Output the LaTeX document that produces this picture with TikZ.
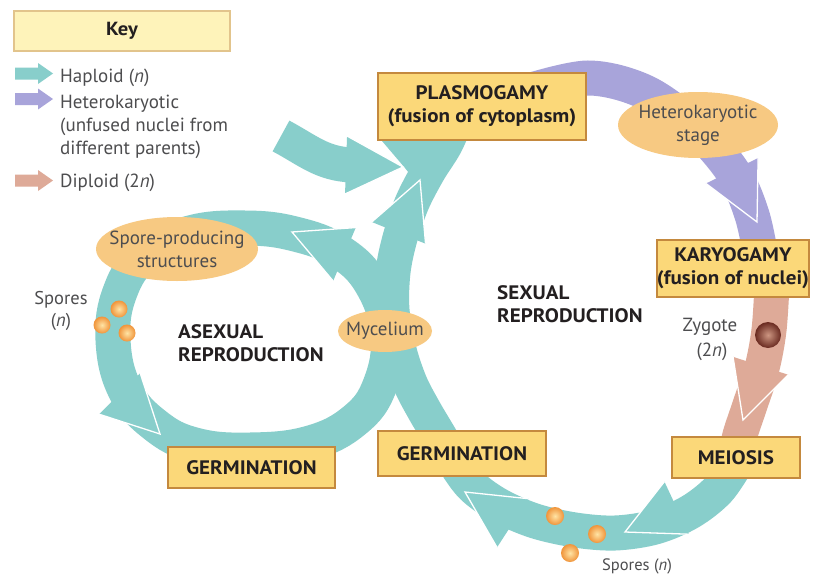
\documentclass[tikz,border=0pt]{standalone}
\usepackage{fontspec}
\setmainfont{PT Sans}[BoldFeatures={FakeStretch=1.08}]
\usetikzlibrary{shapes.geometric}
\definecolor{hapl}{RGB}{136,206,203}
\definecolor{hetk}{RGB}{168,164,218}
\definecolor{dipl}{RGB}{222,170,152}
\definecolor{boxfill}{RGB}{251,216,121}
\definecolor{boxline}{RGB}{196,137,62}
\definecolor{ellfill}{RGB}{247,201,130}
\definecolor{keyfill}{RGB}{254,243,186}
\definecolor{keyline}{RGB}{226,196,140}
\definecolor{txt}{RGB}{35,31,32}
\definecolor{txtg}{RGB}{77,77,79}
\definecolor{sporein}{RGB}{255,228,165}
\definecolor{sporeout}{RGB}{240,148,58}
\definecolor{zygin}{RGB}{205,150,130}
\definecolor{zygout}{RGB}{105,42,32}
\newcommand{\bandhead}[4]{%
  \fill[#4] (#1,-#2) -- +(#3+206.97:63.95) -- +(#3+153.03:63.95) -- cycle;
  \draw[white, line width=1.3pt, line join=miter] (#1,-#2) +(#3+206.97:63.95) -- (#1,-#2) -- +(#3+153.03:63.95);}
\newcommand{\keyarrow}[2]{%
  \fill[#2] (15,-#1) ++(0,6) -- ++(23,0) -- ++(0,4.5) -- ++(15,-10.5) -- ++(-15,-10.5) -- ++(0,4.5) -- ++(-23,0) -- cycle;}
\begin{document}
\begin{tikzpicture}[x=1pt,y=1pt,
  band/.style={line width=35pt, line cap=butt},
  stepbox/.style={draw=boxline, fill=boxfill, line width=1.6pt, inner sep=0pt, align=center, text=txt, font=\fontsize{19.5}{23}\selectfont\bfseries},
  oval/.style={ellipse, fill=ellfill, inner sep=0pt},
  lbl/.style={inner sep=0pt, text=txtg, font=\fontsize{19}{23}\selectfont},
  slbl/.style={inner sep=0pt, text=txtg, font=\fontsize{16.5}{21}\selectfont},
  blbl/.style={inner sep=0pt, text=txt, font=\fontsize{19.5}{23}\selectfont\bfseries},
  spore/.style={inner color=sporein, outer color=sporeout}]
\fill[white] (0,0) rectangle (818,-578);
\useasboundingbox (0,0) rectangle (818,-578);

% ---- key
\node[draw=keyline, fill=keyfill, line width=1.2pt, minimum width=216pt, minimum height=40pt, inner sep=0pt, text=txt, font=\fontsize{19}{23}\selectfont\bfseries] (key) at (122,-31) {Key};
\keyarrow{73.5}{hapl}
\keyarrow{99}{hetk}
\keyarrow{180.5}{dipl}
\node[lbl, anchor=base west] (k1) at (60,-82) {Haploid (\textit{n})};
\node[lbl, anchor=base west] (k2) at (60,-108) {Heterokaryotic};
\node[lbl, anchor=base west] (k3) at (60,-131) {(unfused nuclei from};
\node[lbl, anchor=base west] (k4) at (60,-154) {different parents)};
\node[lbl, anchor=base west] (k5) at (60,-187) {Diploid (2\textit{n})};

% ---- bands
\draw[band, hapl] plot[smooth cycle, tension=0.7] coordinates {(388,-335) (380,-385) (355,-420) (310,-443) (250,-450) (195,-445) (155,-425) (125,-390) (113,-340) (120,-292) (145,-255) (190,-233) (245,-228) (295,-234) (340,-252) (372,-285)};
\draw[band, hapl] (281,-136) to[out=-28, in=178] (352,-165);
\draw[band, hapl] plot[smooth, tension=0.55] coordinates {(737,-462) (718,-490) (690,-512) (655,-527) (615,-533) (575,-530) (535,-521) (500,-506) (473,-487) (455,-463) (440,-437) (424,-410) (410,-383) (399,-350) (392,-310) (393,-272) (400,-238) (412,-203) (428,-172) (445,-145) (456,-120)};
\fill[hapl] (382,-141) -- (463,-141) -- (428,-197) -- (405,-168) -- cycle;
\draw[band, hetk] plot[smooth, tension=0.55] coordinates {(525,-92) (588,-78) (645,-92) (695,-128) (733,-172) (752,-215) (762,-262)};
\draw[band, dipl] plot[smooth, tension=0.55] coordinates {(772,-285) (769,-330) (762,-368) (750,-405) (740,-435) (736,-455)};

% ---- arrowheads
\bandhead{292}{232}{157}{hapl}
\bandhead{160}{434}{-45}{hapl}
\bandhead{420}{180}{68}{hapl}
\bandhead{403}{167}{-2}{hapl}
\bandhead{757}{222}{-64}{hetk}
\bandhead{743}{420}{-108}{dipl}
\bandhead{625}{532}{205}{hapl}
\bandhead{465}{492}{147}{hapl}

% ---- boxes
\node[stepbox, minimum width=208pt, minimum height=67pt] (plas) at (482,-106.5) {PLASMOGAMY\\(fusion of cytoplasm)};
\node[stepbox, minimum width=150pt, minimum height=57pt] (kary) at (733,-268.5) {KARYOGAMY\\(fusion of nuclei)};
\node[stepbox, minimum width=128pt, minimum height=41pt] (meio) at (736,-457.5) {MEIOSIS};
\node[stepbox, minimum width=168pt, minimum height=45pt] (germr) at (462,-453.5) {GERMINATION};
\node[stepbox, minimum width=167pt, minimum height=41pt] (germl) at (251.5,-467.5) {GERMINATION};

% ---- ellipses
\node[oval, minimum width=160pt, minimum height=66pt] (het) at (698,-125) {};
\node[lbl, align=center] (hett) at (het) {Heterokaryotic\\stage};
\node[oval, minimum width=162pt, minimum height=64pt] (spp) at (177,-249) {};
\node[lbl, align=center] (sppt) at (spp) {Spore-producing\\structures};
\node[oval, minimum width=94pt, minimum height=42pt] (myc) at (385,-331) {};
\node[lbl] (myct) at (myc) {Mycelium};

% ---- spores and zygote
\shade[spore] (119,-309) circle[radius=8.5];
\shade[spore] (102,-325) circle[radius=8.5];
\shade[spore] (127,-333) circle[radius=8.5];
\shade[spore] (555,-516) circle[radius=9];
\shade[spore] (597,-534) circle[radius=9];
\shade[spore] (570,-553) circle[radius=9];
\shade[inner color=zygin, outer color=zygout] (768,-335) circle[radius=13];

% ---- labels
\node[lbl, font=\fontsize{18.5}{22}\selectfont] (sp1) at (61,-300) {Spores};
\node[lbl, font=\fontsize{18.5}{22}\selectfont] (sp1n) at (61,-322) {(\textit{n})};
\node[slbl] (sp2) at (637,-566) {Spores (\textit{n})};
\node[lbl] (zy) at (710,-327) {Zygote};
\node[lbl] (zyn) at (712,-352) {(2\textit{n})};
\node[blbl, anchor=west, align=left] (sex) at (497,-304) {SEXUAL\\REPRODUCTION};
\node[blbl, anchor=west, align=left] (asex) at (178,-343) {ASEXUAL\\REPRODUCTION};
\end{tikzpicture}
\end{document}
